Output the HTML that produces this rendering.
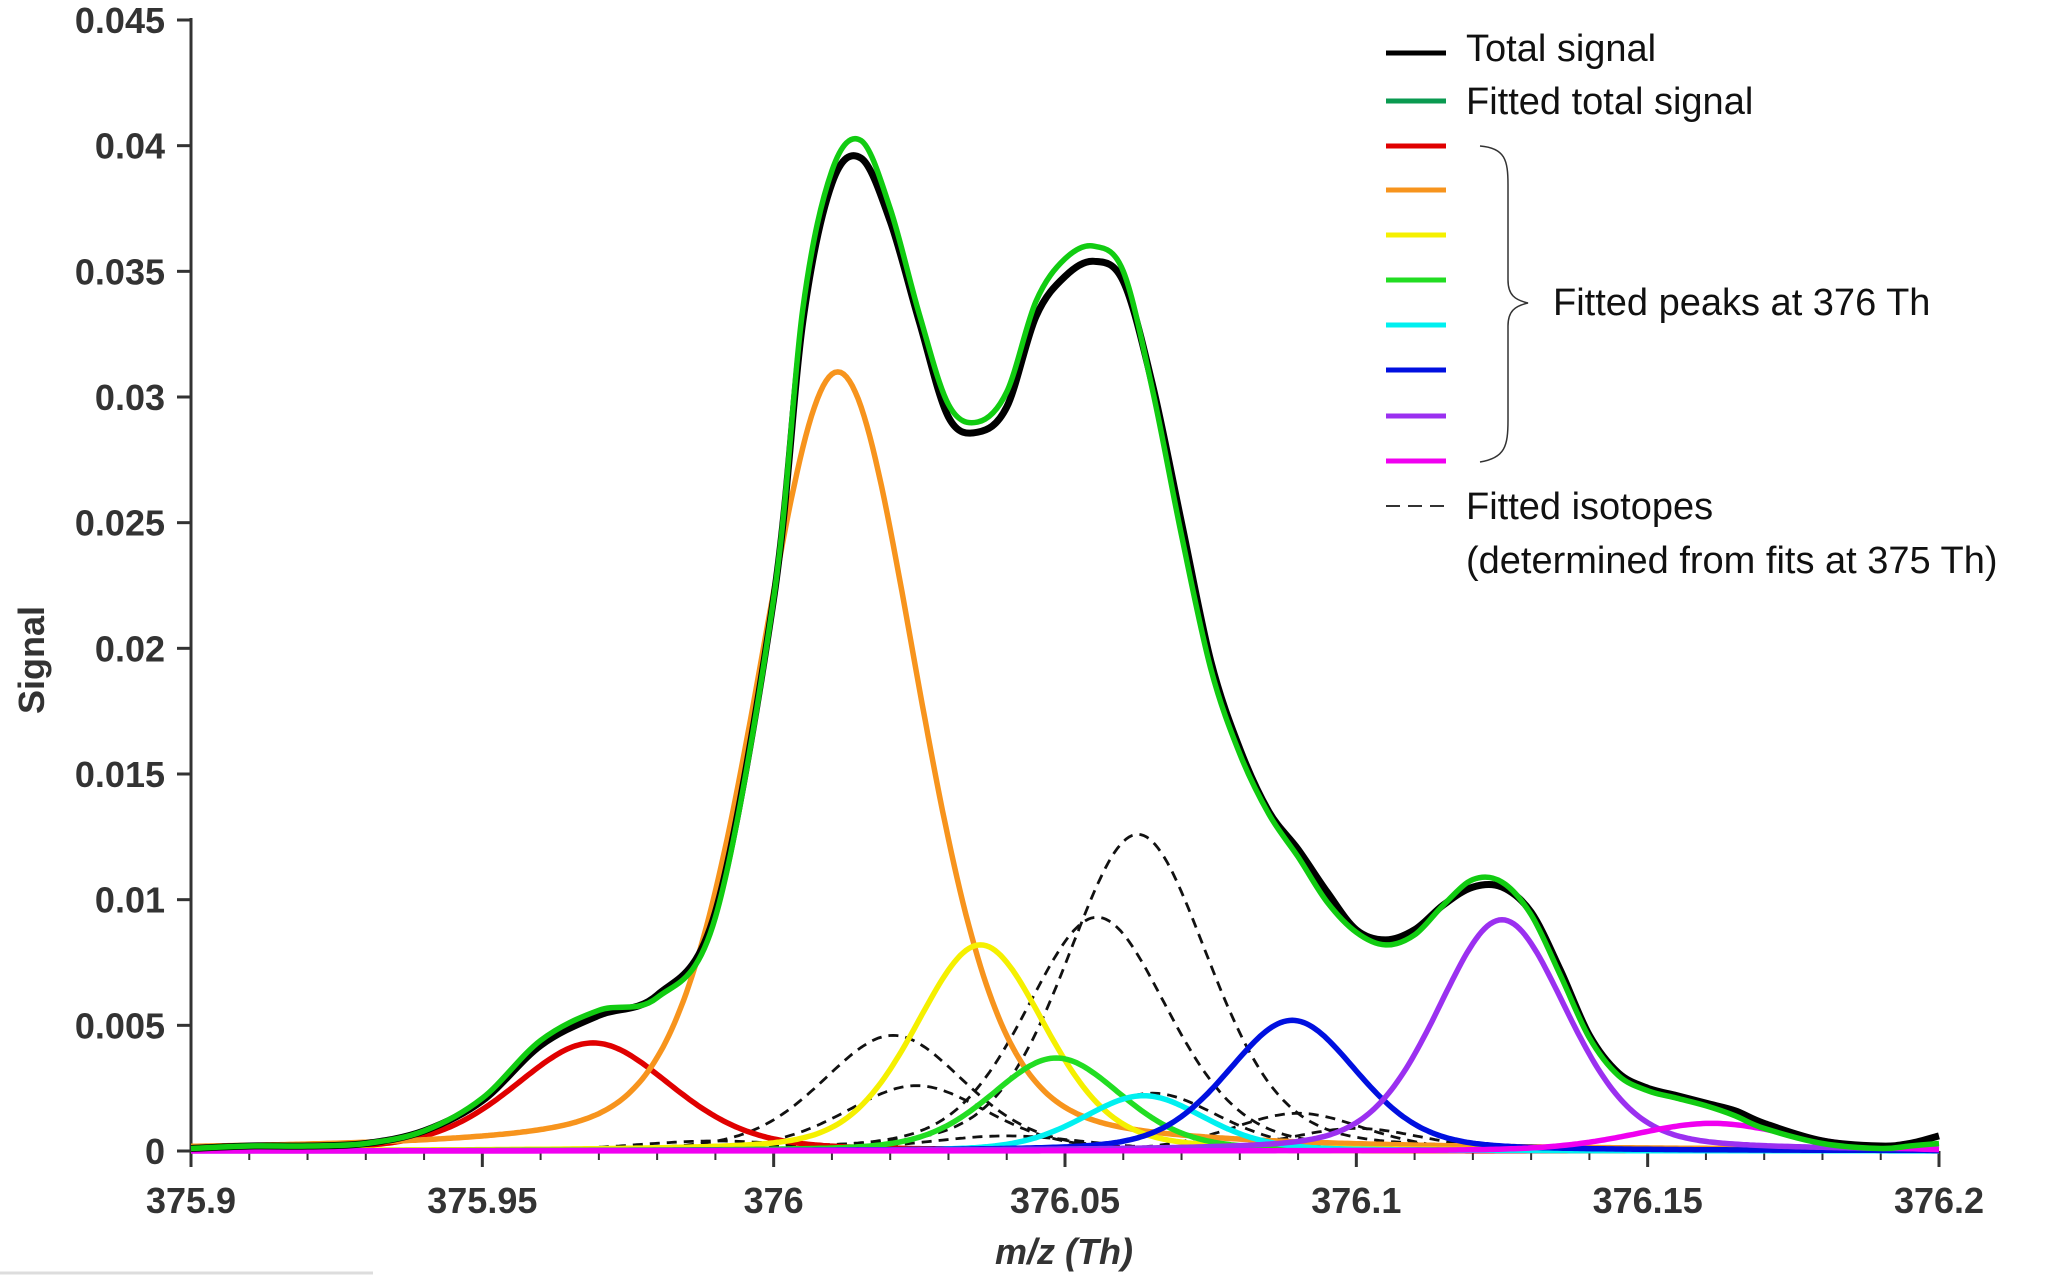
<!DOCTYPE html>
<html><head><meta charset="utf-8"><style>
html,body{margin:0;padding:0;background:#fff;}
svg{display:block;}
.tick{font-family:"Liberation Sans",sans-serif;font-weight:bold;font-size:36px;fill:#333;}
.leg{font-family:"Liberation Sans",sans-serif;font-size:38px;fill:#111;}
</style></head><body>
<svg id="chart" width="2067" height="1276" viewBox="0 0 2067 1276" xmlns="http://www.w3.org/2000/svg">
<g id="axes"></g>
<g id="series"></g>
<text x="44" y="660" transform="rotate(-90 44 660)" text-anchor="middle" class="tick" style="font-size:36px">Signal</text>
<text x="1064" y="1264" text-anchor="middle" class="tick" style="font-size:36px;font-style:italic">m/z (Th)</text>
<line x1="0" y1="1273" x2="373" y2="1273" stroke="#ddd" stroke-width="3"/>
<g id="legend">
<line x1="1386" y1="53" x2="1446" y2="53" stroke="#000" stroke-width="5"/>
<text x="1466" y="61" class="leg">Total signal</text>
<line x1="1386" y1="101" x2="1446" y2="101" stroke="#0a9a50" stroke-width="5"/>
<text x="1466" y="114" class="leg">Fitted total signal</text>
<line x1="1386" y1="146" x2="1446" y2="146" stroke="#e00000" stroke-width="5"/>
<line x1="1386" y1="190" x2="1446" y2="190" stroke="#f7941d" stroke-width="5"/>
<line x1="1386" y1="235" x2="1446" y2="235" stroke="#f5f000" stroke-width="5"/>
<line x1="1386" y1="280" x2="1446" y2="280" stroke="#22dd22" stroke-width="5"/>
<line x1="1386" y1="325" x2="1446" y2="325" stroke="#00f0f0" stroke-width="5"/>
<line x1="1386" y1="370" x2="1446" y2="370" stroke="#0010e0" stroke-width="5"/>
<line x1="1386" y1="416" x2="1446" y2="416" stroke="#9b30f0" stroke-width="5"/>
<line x1="1386" y1="461" x2="1446" y2="461" stroke="#f000f0" stroke-width="5"/>
<path d="M1480 146 C1505 148 1508 160 1508 185 L1508 280 C1508 295 1515 300 1528 303 C1515 306 1508 311 1508 326 L1508 420 C1508 446 1505 458 1480 462" fill="none" stroke="#333" stroke-width="1.5"/>
<text x="1553" y="315" class="leg">Fitted peaks at 376 Th</text>
<line x1="1386" y1="506" x2="1446" y2="506" stroke="#333" stroke-width="2" stroke-dasharray="14,8"/>
<text x="1466" y="519" class="leg">Fitted isotopes</text>
<text x="1466" y="573" class="leg">(determined from fits at 375 Th)</text>
</g>
</svg>
<script>
// data
const xTicks = [375.9, 375.95, 376, 376.05, 376.1, 376.15, 376.2];
const xTickLabels = ["375.9","375.95","376","376.05","376.1","376.15","376.2"];
const yTicks = [0,0.005,0.01,0.015,0.02,0.025,0.03,0.035,0.04,0.045];
const yTickLabels = ["0","0.005","0.01","0.015","0.02","0.025","0.03","0.035","0.04","0.045"];
const totalX = [375.9,375.91,375.92,375.93,375.94,375.95,375.96,375.97,375.98,375.99,376.0,376.005,376.01,376.015,376.02,376.025,376.03,376.035,376.04,376.045,376.05,376.055,376.06,376.065,376.07,376.075,376.08,376.085,376.09,376.095,376.1,376.105,376.11,376.115,376.12,376.125,376.13,376.135,376.14,376.145,376.15,376.155,376.16,376.165,376.17,376.18,376.19,376.195,376.2];
const totalY = [0.0001,0.0002,0.0002,0.0003,0.0008,0.002,0.0042,0.0054,0.0062,0.0095,0.022,0.033,0.0385,0.0395,0.037,0.033,0.0292,0.0286,0.0296,0.0332,0.0348,0.0354,0.0346,0.0305,0.025,0.0195,0.016,0.0135,0.012,0.0103,0.0088,0.0084,0.0088,0.0098,0.0105,0.0105,0.0095,0.0072,0.0046,0.0031,0.0025,0.0022,0.0019,0.0016,0.0011,0.0004,0.0002,0.0003,0.0006];
const fitY = [0.0001,0.0002,0.0002,0.0003,0.0008,0.0021,0.0044,0.0056,0.0061,0.0093,0.022,0.0335,0.039,0.0402,0.0375,0.0333,0.0297,0.029,0.0302,0.0338,0.0355,0.036,0.035,0.0303,0.0245,0.0192,0.0158,0.0134,0.0117,0.0099,0.0087,0.0082,0.0086,0.0098,0.0108,0.0107,0.0094,0.007,0.0045,0.003,0.0024,0.0021,0.0018,0.0014,0.0009,0.0003,0.0001,0.0002,0.0003];
const peakCenters = [375.969, 376.011, 376.0355, 376.0485, 376.0635, 376.089, 376.125, 376.161];
const peakHeights = [0.0043, 0.031, 0.0082, 0.0037, 0.0022, 0.0052, 0.0092, 0.0011];
const peakWidths = [0.0135, 0.0138, 0.0112, 0.0112, 0.0105, 0.0112, 0.0112, 0.0135];
const peakColors = ["#e00000","#f7941d","#f5f000","#22dd22","#00f0f0","#0010e0","#9b30f0","#f000f0"];
const peakNames = ["peak-red","peak-orange","peak-yellow","peak-green","peak-cyan","peak-blue","peak-purple","peak-magenta"];
const isoCenters = [376.0205, 376.0245, 376.0555, 376.0625, 376.065, 376.09, 376.1, 375.99, 376.04];
const isoHeights = [0.0046, 0.0026, 0.0093, 0.0126, 0.0023, 0.0015, 0.0009, 0.0004, 0.0006];
const isoWidths = [0.0122, 0.0122, 0.0122, 0.0122, 0.0115, 0.0115, 0.0115, 0.014, 0.014];

const X0=191, X1=1939, Y0=1151, Y45=20;
const xs = v => X0 + (v-375.9)/0.3*(X1-X0);
const ys = v => Y0 - v/0.045*(Y0-Y45);
const NS="http://www.w3.org/2000/svg";
function mk(tag, attrs, parent){const e=document.createElementNS(NS,tag);for(const k in attrs)e.setAttribute(k,attrs[k]);parent.appendChild(e);return e;}
const axes=document.getElementById('axes'), ser=document.getElementById('series');

let a=mk('line',{x1:X0,y1:Y45-2,x2:X0,y2:Y0+14,stroke:'#333','stroke-width':3},axes);


a=mk('line',{x1:X0,y1:Y0,x2:X1,y2:Y0,stroke:'#333','stroke-width':3},axes);


yTicks.forEach((v,i)=>{
  const t=mk('line',{x1:X0-14,y1:ys(v),x2:X0,y2:ys(v),stroke:'#333','stroke-width':3},axes);
  
  
  const l=mk('text',{x:X0-26,y:ys(v)+13,'text-anchor':'end',class:'tick'},axes);
  l.textContent=yTickLabels[i];
  
  
});
for(let k=0;k<=30;k++){
  const v=375.9+k*0.01, major=(k%5===0);
  const t=mk('line',{x1:xs(v),y1:Y0,x2:xs(v),y2:Y0+(major?16:9),stroke:'#333','stroke-width':major?3:2},axes);
  
  
}
xTicks.forEach((v,i)=>{
  const l=mk('text',{x:xs(v),y:Y0+62,'text-anchor':'middle',class:'tick'},axes);
  l.textContent=xTickLabels[i];
  
  
});

function pv(x,c,h,w){const d=(x-c)/w;const g=Math.exp(-0.5*d*d);const L=1/(1+0.5*d*d*1.386);return h*(0.72*g+0.28*L);}
function curvePath(c,h,w){let d='';for(let x=375.9;x<=376.2001;x+=0.0005){d+=(d?'L':'M')+xs(x).toFixed(1)+' '+ys(pv(x,c,h,w)).toFixed(1);}return d;}
function smoothPath(X,Y){let d='M'+xs(X[0])+' '+ys(Y[0]);for(let i=0;i<X.length-1;i++){const p0=i>0?i-1:i,p3=i+2<X.length?i+2:i+1;
 const x1=xs(X[i]),y1=ys(Y[i]),x2=xs(X[i+1]),y2=ys(Y[i+1]);
 const c1x=x1+(x2-xs(X[p0]))/6,c1y=y1+(y2-ys(Y[p0]))/6,c2x=x2-(xs(X[p3])-x1)/6,c2y=y2-(ys(Y[p3])-y1)/6;
 d+=`C${c1x.toFixed(1)} ${c1y.toFixed(1)} ${c2x.toFixed(1)} ${c2y.toFixed(1)} ${x2.toFixed(1)} ${y2.toFixed(1)}`;}return d;}

isoCenters.forEach((c,i)=>{
  const p=mk('path',{d:curvePath(c,isoHeights[i],isoWidths[i]),fill:'none',stroke:'#111','stroke-width':2.8,'stroke-dasharray':'10,7'},ser);
  
  
});
peakCenters.forEach((c,i)=>{
  const p=mk('path',{d:curvePath(c,peakHeights[i],peakWidths[i]),fill:'none',stroke:peakColors[i],'stroke-width':5.5},ser);
  
  
});
let p=mk('path',{d:smoothPath(totalX,totalY),fill:'none',stroke:'#000','stroke-width':7},ser);


p=mk('path',{d:smoothPath(totalX,fitY),fill:'none',stroke:'#11cc11','stroke-width':5.5},ser);


</script>
</body></html>
